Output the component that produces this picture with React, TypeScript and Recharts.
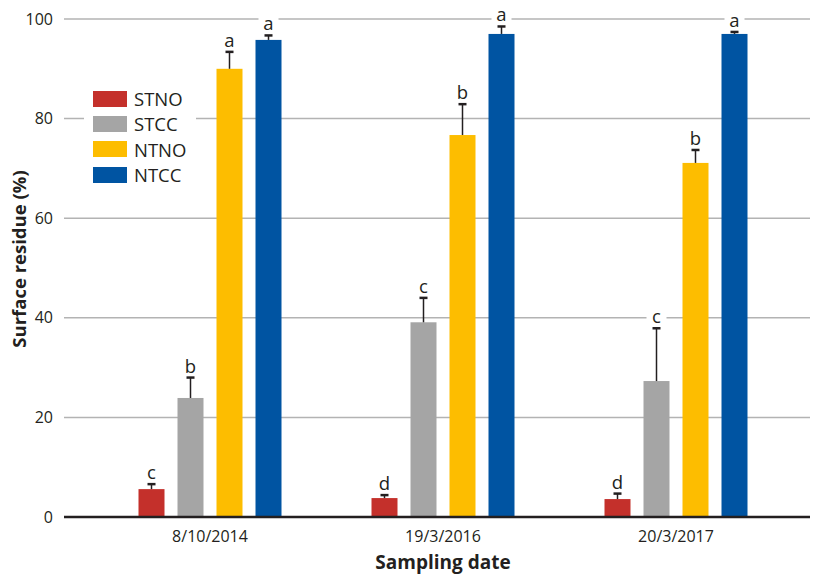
import React from 'react'
import { BarChart, Bar, XAxis, YAxis, CartesianGrid, Legend } from 'recharts'

const DATES = ['8/10/2014', '19/3/2016', '20/3/2017']
const SERIES = ['STNO', 'STCC', 'NTNO', 'NTCC']
const COLORS = ['#c4302b', '#a5a5a5', '#fdbd00', '#0054a2']

const STNO = [5.6, 3.8, 3.6]
const STCC = [23.9, 39.1, 27.3]
const NTNO = [90, 76.7, 71.1]
const NTCC = [95.8, 97, 97]

const STNO_ERR = [1.0, 0.6, 1.1]
const STCC_ERR = [4.1, 4.9, 10.6]
const NTNO_ERR = [3.4, 6.2, 2.6]
const NTCC_ERR = [0.9, 1.5, 0.4]

const STNO_LET = ['c', 'd', 'd']
const STCC_LET = ['b', 'c', 'c']
const NTNO_LET = ['a', 'b', 'b']
const NTCC_LET = ['a', 'a', 'a']

const Y_TICKS = [0, 20, 40, 60, 80, 100]

const FONT = '"Open Sans", "Noto Sans", sans-serif'
const INK = '#231f20'

const VALUES = [STNO, STCC, NTNO, NTCC]
const ERRS = [STNO_ERR, STCC_ERR, NTNO_ERR, NTCC_ERR]
const LETTERS = [STNO_LET, STCC_LET, NTNO_LET, NTCC_LET]

const data = DATES.map((date, i) => {
  const row: Record<string, string | number> = { date }
  SERIES.forEach((s, k) => {
    row[s] = VALUES[k][i]
    row[s + 'Err'] = ERRS[k][i]
    row[s + 'Let'] = LETTERS[k][i]
  })
  return row
})

// bar + upward error bar + significance letter
function makeShape(key: string) {
  return (props: any) => {
    const { x, y, width, height, payload, fill } = props
    const v = payload[key] as number
    const e = payload[key + 'Err'] as number
    const perUnit = v ? height / v : 0
    const capY = y - e * perUnit
    const cx = x + width / 2
    const base = capY - 5
    return (
      <g>
        <rect x={x} y={y} width={width} height={height} fill={fill} />
        <line x1={cx} x2={cx} y1={y} y2={capY} stroke={INK} strokeWidth={1.5} />
        <line x1={cx - 4} x2={cx + 4} y1={capY} y2={capY} stroke={INK} strokeWidth={2.5} />
        <rect x={cx - 10} y={base - 14} width={20} height={17} fill="#fff" />
        <text x={cx} y={base} textAnchor="middle" fontSize={18.5} fill={INK} fontFamily={FONT}>
          {payload[key + 'Let']}
        </text>
      </g>
    )
  }
}

function LegendBox({ payload }: any) {
  const items = SERIES.map((s) => (payload || []).find((p: any) => p.value === s)).filter(Boolean)
  return (
    <div style={{ background: '#fff', padding: '4px 10px 6px 9px', fontFamily: FONT }}>
      {items.map((p: any) => (
        <div key={p.value} style={{ display: 'flex', alignItems: 'center', height: 25.3 }}>
          <span style={{ width: 34, height: 16, background: p.color, display: 'inline-block' }} />
          <span style={{ marginLeft: 7, fontSize: 18.5, color: INK }}>{p.value}</span>
        </div>
      ))}
    </div>
  )
}

const XTitle = ({ viewBox }: any) => (
  <text
    x={viewBox.x + viewBox.width / 2 + 6}
    y={viewBox.y + 52}
    textAnchor="middle"
    fontSize={19}
    fontWeight={700}
    fill={INK}
    fontFamily={FONT}
  >
    Sampling date
  </text>
)

const YTitle = ({ viewBox }: any) => {
  const cx = 18
  const cy = viewBox.y + viewBox.height / 2 - 9
  return (
    <text
      x={cx}
      y={cy}
      transform={`rotate(-90 ${cx} ${cy})`}
      textAnchor="middle"
      dominantBaseline="central"
      fontSize={18.5}
      fontWeight={700}
      fill={INK}
      fontFamily={FONT}
    >
      Surface residue (%)
    </text>
  )
}

export default function App() {
  return (
    <div>
      <style>{'body{margin:0}'}</style>
      <BarChart
        width={820}
        height={575}
        data={data}
        margin={{ top: 19, right: 10, bottom: 0, left: 0 }}
        barSize={26}
        barGap={13}
      >
        <CartesianGrid vertical={false} stroke="#b3b3b3" strokeWidth={1.5} />
        <XAxis
          dataKey="date"
          height={58}
          padding={{ left: 29.5, right: 17.5 }}
          tickLine={false}
          axisLine={{ stroke: INK, strokeWidth: 2.5 }}
          tickMargin={8}
          tick={{ fontSize: 16, fill: INK, fontFamily: FONT }}
          label={{ content: XTitle }}
        />
        <YAxis
          width={64}
          domain={[0, 100]}
          ticks={Y_TICKS}
          tickLine={false}
          axisLine={false}
          tickMargin={5}
          tick={{ fontSize: 16, fill: INK, fontFamily: FONT }}
          label={{ content: YTitle }}
        />
        <Legend
          content={<LegendBox />}
          layout="vertical"
          verticalAlign="middle"
          align="center"
          wrapperStyle={{ left: 84, top: 82, width: 'auto' }}
        />
        {SERIES.map((s, k) => (
          <Bar key={s} dataKey={s} name={s} fill={COLORS[k]} isAnimationActive={false} shape={makeShape(s)} />
        ))}
      </BarChart>
    </div>
  )
}
